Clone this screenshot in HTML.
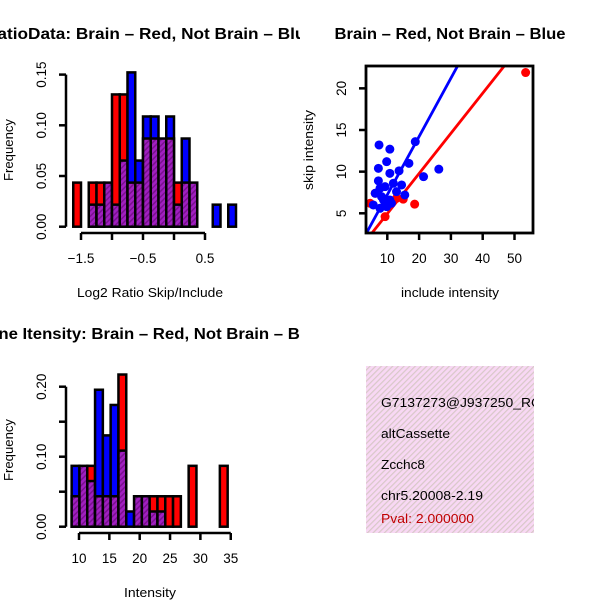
<!DOCTYPE html>
<html><head><meta charset="utf-8"><style>
html,body{margin:0;padding:0;background:#fff;}
svg{display:block;font-family:"Liberation Sans",sans-serif;}
</style></head><body>
<svg id="chart" width="600" height="600" viewBox="0 0 600 600" xmlns="http://www.w3.org/2000/svg">
<defs>
<pattern id="hatch" width="4" height="4" patternUnits="userSpaceOnUse" patternTransform="rotate(45)">
<rect width="4" height="4" fill="#a020c0"/><rect width="1.5" height="4" fill="#7a1090"/></pattern>
<pattern id="pinkhatch" width="4" height="4" patternUnits="userSpaceOnUse" patternTransform="rotate(45)">
<rect width="4" height="4" fill="#f8d8f4"/><rect width="1.2" height="4" fill="#d8c8c8"/></pattern>
<clipPath id="c1"><rect x="0" y="0" width="300" height="300"/></clipPath>
<clipPath id="c3"><rect x="0" y="300" width="300" height="300"/></clipPath>
<clipPath id="c2"><rect x="366" y="66" width="167" height="167"/></clipPath>
</defs>
<g id="p1" clip-path="url(#c1)"></g>
<g id="p2"></g>
<g id="p3" clip-path="url(#c3)"></g>
<g id="p4">
<rect x="366" y="366" width="168" height="167" fill="url(#pinkhatch)"/>
<g font-size="13" fill="#000">
<text x="381" y="407" textLength="160" lengthAdjust="spacingAndGlyphs">G7137273@J937250_RC</text>
<text x="381" y="438" textLength="69" lengthAdjust="spacingAndGlyphs">altCassette</text>
<text x="381" y="469" textLength="44" lengthAdjust="spacingAndGlyphs">Zcchc8</text>
<text x="381" y="500" textLength="102" lengthAdjust="spacingAndGlyphs">chr5.20008-2.19</text>
<text x="381" y="523" fill="#c00000" textLength="93" lengthAdjust="spacingAndGlyphs">Pval: 2.000000</text>
</g>
<rect x="534" y="360" width="66" height="180" fill="#fff"/>
</g>
</svg>
<script>
// Histogram 1 data (counts in units of 1/46)
const h1Start = -1.625, h1Width = 0.125;
const h1Red  = [2,0,2,2,2,6,6,2,2,4,4,4,4,2,2,2,0,0,0,0,0];
const h1Blue = [0,0,1,1,2,1,3,7,3,5,5,4,5,1,4,2,0,0,1,0,1];
const h1YTicks = [0, 0.05, 0.10, 0.15];
const h1YLabels = ["0.00","0.05","0.10","0.15"];
const h1XTicks = [-1.5,-1.0,-0.5,0,0.5];
const h1XLabels = ["-1.5","","-0.5","","0.5"];
// Histogram 2 data
const h2Start = 8.79, h2Width = 1.285;
const h2Red  = [2,4,4,2,2,2,10,0,2,2,2,2,2,2,0,4,0,0,0,4];
const h2Blue = [4,4,3,9,6,8,5,1,2,2,1,1,0,0,0,0,0,0,0,0];
const h2YTicks = [0,0.05,0.10,0.15,0.20];
const h2YLabels = ["0.00","","0.10","","0.20"];
const h2XTicks = [10,15,20,25,30,35];
const h2XLabels = ["10","15","20","25","30","35"];
// Scatter data
const redX = [53.5,18.6,15,9.3,4.6,6.2,12.9];
const redY = [21.9,6.1,6.7,4.6,6.2,7.4,6.8];
const blueX = [7.4,10.8,18.8,9.8,7.2,16.8,13.7,26.2,21.4,7.2,10.8,14.5,7.7,9.3,11.9,15.5,6.2,8.8,5.6,10.8,12.9,7.7,9.8,8.2,11.3];
const blueY = [13.2,12.7,13.6,11.2,10.4,11,10.1,10.3,9.4,8.9,9.8,8.4,8,8.2,8.6,7.2,7.4,6.6,6,6.6,7.6,5.6,5.8,7,6.2];
const redFit = [0.14, 0.482];
const blueFit = [0.22, 0.70];
const scXTicks = [10,20,30,40,50];
const scYTicks = [5,10,15,20];

const NS="http://www.w3.org/2000/svg";
function mk(tag, attrs, parent, txt){const e=document.createElementNS(NS,tag);for(const k in attrs)e.setAttribute(k,attrs[k]);if(txt!==undefined)e.textContent=txt;parent.appendChild(e);return e;}
const unit = 1/46;

function hist(g, start, width, red, blue, sx, sy, nameP){
  for(let i=0;i<red.length;i++){
    const r=red[i]*unit, b=blue[i]*unit;
    const x0=sx(start+i*width), x1=sx(start+(i+1)*width);
    const hi=Math.max(r,b), lo=Math.min(r,b);
    if(hi>0 && r!==b){
      const e=mk('rect',{x:x0,y:sy(hi),width:x1-x0,height:sy(0)-sy(hi),fill:r>b?'#ff0000':'#0000ff',stroke:'#000','stroke-width':2.5},g);
      
      
    }
    if(lo>0){
      const e=mk('rect',{x:x0,y:sy(lo),width:x1-x0,height:sy(0)-sy(lo),fill:'url(#hatch)',stroke:'#000','stroke-width':2.5},g);
      
      
    }
  }
}
function axes(g, sx, sy, xt, xl, yt, yl, axY, axX, nameP){
  mk('line',{x1:sx(xt[0]),x2:sx(xt[xt.length-1]),y1:axY,y2:axY,stroke:'#000','stroke-width':2.5},g);
  xt.forEach((v,i)=>{mk('line',{x1:sx(v),x2:sx(v),y1:axY,y2:axY+7,stroke:'#000','stroke-width':2.5},g);
    if(xl[i]){const t=mk('text',{x:sx(v),y:axY+30,'text-anchor':'middle','font-size':13.5},g,xl[i].replace('-','\u2212'));
      
      }});
  mk('line',{x1:axX,x2:axX,y1:sy(yt[0]),y2:sy(yt[yt.length-1]),stroke:'#000','stroke-width':2.5},g);
  yt.forEach((v,i)=>{mk('line',{x1:axX,x2:axX-7,y1:sy(v),y2:sy(v),stroke:'#000','stroke-width':2.5},g);
    if(yl[i]){const t=mk('text',{x:axX-20,y:sy(v),'text-anchor':'middle','font-size':13.5,transform:`rotate(-90 ${axX-20} ${sy(v)})`},g,yl[i]);
      
      }});
}
function label(g,x,y,txt,name,rot,bold,size,len){
  const a={x:x,y:y,'text-anchor':'middle','font-size':size||13};
  if(rot)a.transform=`rotate(-90 ${x} ${y})`;
  if(bold)a['font-weight']='bold';
  if(len){a.textLength=len;a.lengthAdjust='spacingAndGlyphs';}
  const t=mk('text',a,g,txt);
  
  
}

// Panel 1
{
  const g=document.getElementById('p1');
  const sx=v=>174+(v)*62;
  const sy=v=>226.7-v*1014;
  hist(g,h1Start,h1Width,h1Red,h1Blue,sx,sy,'ratio');
  axes(g,sx,sy,h1XTicks,h1XLabels,h1YTicks,h1YLabels,233,66,'ratio');
  label(g,150,39,'RatioData: Brain \u2013 Red, Not Brain \u2013 Blue','ratio-title',false,true,16,330);
  label(g,150,297,'Log2 Ratio Skip/Include','ratio-x-axis-title',false,false,13,146);
  label(g,13,150,'Frequency','ratio-y-axis-title',true,false,13,62);
}
// Panel 3
{
  const g=document.getElementById('p3');
  const sx=v=>79+(v-10)*6.07;
  const sy=v=>526.7-v*700;
  hist(g,h2Start,h2Width,h2Red,h2Blue,sx,sy,'intensity');
  axes(g,sx,sy,h2XTicks,h2XLabels,h2YTicks,h2YLabels,533,66,'intensity');
  label(g,150,339,'Gene Itensity: Brain \u2013 Red, Not Brain \u2013 Blue','intensity-title',false,true,16,348);
  label(g,150,597,'Intensity','intensity-x-axis-title',false,false,13,52);
  label(g,13,450,'Frequency','intensity-y-axis-title',true,false,13,62);
}
// Panel 2
{
  const g=document.getElementById('p2');
  const sx=v=>387.3+(v-10)*3.18;
  const sy=v=>213.3-(v-5)*8.33;
  const pg=mk('g',{'clip-path':'url(#c2)'},g);
  const xa=3.3, xb=55.8;
  const lb=mk('line',{x1:sx(xa),y1:sy(blueFit[0]+blueFit[1]*xa),x2:sx(xb),y2:sy(blueFit[0]+blueFit[1]*xb),stroke:'#0000ff','stroke-width':2.8},pg);
  
  
  const lr=mk('line',{x1:sx(xa),y1:sy(redFit[0]+redFit[1]*xa),x2:sx(xb),y2:sy(redFit[0]+redFit[1]*xb),stroke:'#ff0000','stroke-width':2.8},pg);
  
  
  redX.forEach((x,i)=>{const c=mk('circle',{cx:sx(x),cy:sy(redY[i]),r:4.5,fill:'#ff0000'},pg);
    
    });
  blueX.forEach((x,i)=>{const c=mk('circle',{cx:sx(x),cy:sy(blueY[i]),r:4.5,fill:'#0000ff'},pg);
    
    });
  mk('rect',{x:366,y:66,width:167,height:167,fill:'none',stroke:'#000','stroke-width':2.8},g);
  scXTicks.forEach(v=>{mk('line',{x1:sx(v),x2:sx(v),y1:233,y2:240,stroke:'#000','stroke-width':2.5},g);
    const t=mk('text',{x:sx(v),y:263,'text-anchor':'middle','font-size':13.5},g,String(v));
    
    });
  scYTicks.forEach(v=>{mk('line',{x1:366,x2:359,y1:sy(v),y2:sy(v),stroke:'#000','stroke-width':2.5},g);
    const t=mk('text',{x:346,y:sy(v),'text-anchor':'middle','font-size':13.5,transform:`rotate(-90 346 ${sy(v)})`},g,String(v));
    
    });
  label(g,450,39,'Brain \u2013 Red, Not Brain \u2013 Blue','scatter-title',false,true,16,231);
  label(g,450,297,'include intensity','scatter-x-axis-title',false,false,13,98);
  label(g,313,150,'skip intensity','scatter-y-axis-title',true,false,13,80);
}
</script>
</body></html>
